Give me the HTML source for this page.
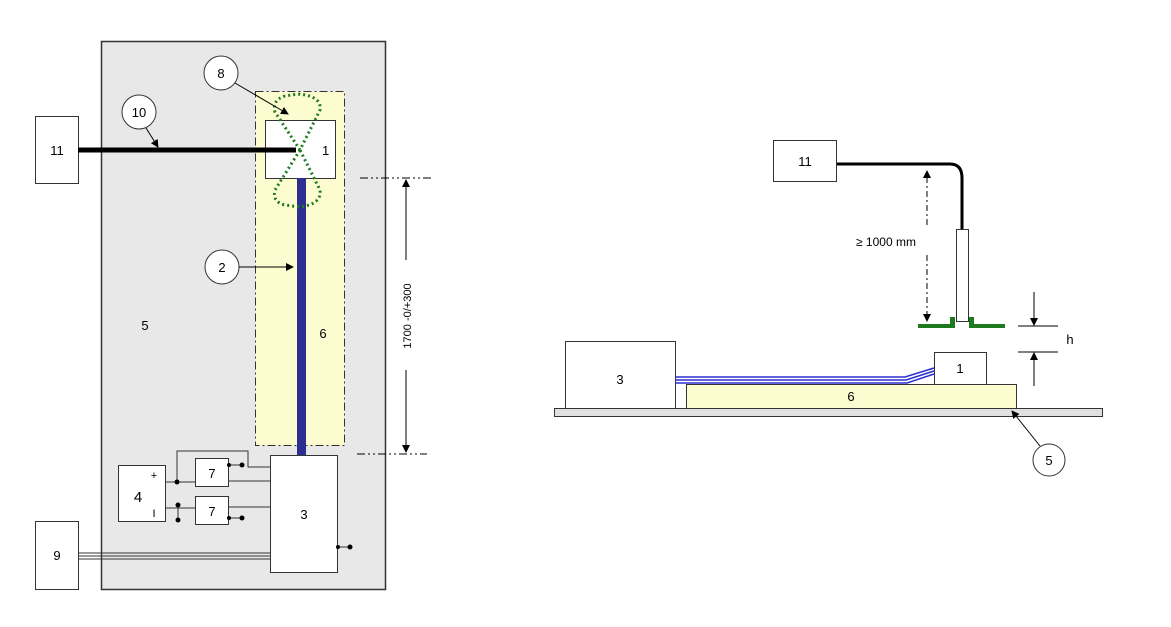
<!DOCTYPE html>
<html><head><meta charset="utf-8"><style>
html,body{margin:0;padding:0;background:#fff;}
svg{display:block;font-family:"Liberation Sans",sans-serif;}
</style></head><body>
<svg width="1171" height="627" viewBox="0 0 1171 627">
<defs>
<marker id="ar" markerWidth="8" markerHeight="8" refX="7" refY="4" orient="auto" markerUnits="userSpaceOnUse"><path d="M0,0 L8,4 L0,8 z" fill="#000"/></marker>
</defs>
<!-- LEFT: top view -->
<g>
<rect x="101.5" y="41.5" width="284" height="548" fill="#e8e8e8" stroke="#333" stroke-width="1.5"/>
<rect x="255.5" y="91.5" width="89" height="354" fill="#fdfcd0" stroke="#333" stroke-dasharray="8,3,2,3"/>
<rect x="265.5" y="120.5" width="70" height="58" fill="#fff" stroke="#333"/>
<text x="322" y="155" font-size="13">1</text>
<rect x="297" y="178" width="9" height="277" fill="#2b2f8f"/>
<rect x="35.5" y="116.5" width="43" height="67" fill="#fff" stroke="#333"/>
<text x="57" y="155" font-size="13" text-anchor="middle">11</text>
<rect x="78" y="147.5" width="218" height="5" fill="#000"/>
<g fill="none" stroke="#1f7a1f" stroke-width="3" stroke-dasharray="2,3">
<path d="M300,150 L275,112 Q272,100 285,96 L298,94 Q322,96 320,110 Z"/>
<path d="M300,150 L275,190 Q272,202 285,205 L300,207 Q322,204 320,190 Z"/>
</g>
<circle cx="221" cy="73" r="17" fill="#fff" stroke="#333"/>
<text x="221" y="78" font-size="13" text-anchor="middle">8</text>
<line x1="235" y1="83" x2="288" y2="114" stroke="#000" marker-end="url(#ar)"/>
<circle cx="139" cy="112" r="17" fill="#fff" stroke="#333"/>
<text x="139" y="117" font-size="13" text-anchor="middle">10</text>
<line x1="146" y1="128" x2="158" y2="147" stroke="#000" marker-end="url(#ar)"/>
<circle cx="222" cy="267" r="17" fill="#fff" stroke="#333"/>
<text x="222" y="272" font-size="13" text-anchor="middle">2</text>
<line x1="239" y1="267" x2="293" y2="267" stroke="#000" marker-end="url(#ar)"/>
<text x="145" y="330" font-size="13" text-anchor="middle">5</text>
<text x="323" y="338" font-size="13" text-anchor="middle">6</text>
<g stroke="#000">
<line x1="360" y1="178" x2="432" y2="178" stroke-dasharray="8,3,2,3,2,3"/>
<line x1="357" y1="454" x2="427" y2="454" stroke-dasharray="8,3,2,3,2,3"/>
<line x1="406" y1="260" x2="406" y2="180" marker-end="url(#ar)"/>
<line x1="406" y1="370" x2="406" y2="452" marker-end="url(#ar)"/>
</g>
<text transform="translate(411,316) rotate(-90)" font-size="11" text-anchor="middle">1700 -0/+300</text>
<rect x="270.5" y="455.5" width="67" height="117" fill="#fff" stroke="#333"/>
<text x="304" y="519" font-size="13" text-anchor="middle">3</text>
<rect x="118.5" y="465.5" width="47" height="56" fill="#fff" stroke="#333"/>
<text x="138" y="502" font-size="15" text-anchor="middle">4</text>
<text x="154" y="479" font-size="11" text-anchor="middle">+</text>
<text x="154" y="517" font-size="11" text-anchor="middle">I</text>
<rect x="195.5" y="458.5" width="33" height="28" fill="#fff" stroke="#333"/>
<text x="212" y="478" font-size="13" text-anchor="middle">7</text>
<rect x="195.5" y="496.5" width="33" height="28" fill="#fff" stroke="#333"/>
<text x="212" y="516" font-size="13" text-anchor="middle">7</text>
<g stroke="#333" fill="none">
<path d="M165.5,482 H195.5"/>
<path d="M177,482 V451 H248 V467 H270.5"/>
<path d="M228.5,481 H270.5"/>
<path d="M228.5,465 H242"/>
<path d="M165.5,508 H195.5"/>
<path d="M178,505 V520"/>
<path d="M228.5,507 H270.5"/>
<path d="M228.5,518 H242"/>
<path d="M337.5,547 H350"/>
</g>
<g fill="#000">
<circle cx="177" cy="482" r="2.5"/><circle cx="242" cy="465" r="2.5"/><circle cx="229" cy="465" r="2"/>
<circle cx="178" cy="505" r="2.5"/><circle cx="178" cy="520" r="2.5"/>
<circle cx="242" cy="518" r="2.5"/><circle cx="229" cy="518" r="2"/>
<circle cx="350" cy="547" r="2.5"/><circle cx="338" cy="547" r="2"/>
</g>
<rect x="35.5" y="521.5" width="43" height="68" fill="#fff" stroke="#333"/>
<text x="57" y="560" font-size="13" text-anchor="middle">9</text>
<g stroke="#333">
<line x1="78" y1="553" x2="270" y2="553"/><line x1="78" y1="556" x2="270" y2="556"/><line x1="78" y1="559" x2="270" y2="559"/>
</g>
</g>
<!-- RIGHT: side view -->
<g>
<rect x="554.5" y="408.5" width="548" height="8" fill="#e0e0e0" stroke="#333"/>
<rect x="565.5" y="341.5" width="110" height="67" fill="#fff" stroke="#333"/>
<text x="620" y="384" font-size="13" text-anchor="middle">3</text>
<rect x="686.5" y="384.5" width="330" height="24" fill="#fdfcd0" stroke="#333"/>
<text x="851" y="401" font-size="13" text-anchor="middle">6</text>
<rect x="934.5" y="352.5" width="52" height="32" fill="#fff" stroke="#333"/>
<text x="960" y="373" font-size="13" text-anchor="middle">1</text>
<g fill="none" stroke="#2b2fcf" stroke-width="1.5">
<path d="M675,377 H905 L934,368"/><path d="M675,380 H906 L934,371"/><path d="M675,383 H907 L934,374"/>
</g>
<rect x="773.5" y="140.5" width="63" height="41" fill="#fff" stroke="#333"/>
<text x="805" y="166" font-size="13" text-anchor="middle">11</text>
<path d="M837,164 H950 Q962,164 962,178 V229" fill="none" stroke="#000" stroke-width="3"/>
<rect x="956.5" y="229.5" width="12" height="92" fill="#fff" stroke="#333"/>
<g fill="#1f7a1f">
<rect x="918" y="324" width="37" height="4"/><rect x="969" y="324" width="36" height="4"/>
<rect x="950" y="317" width="5" height="8"/><rect x="969" y="317" width="5" height="8"/>
</g>
<g stroke="#000">
<line x1="927" y1="225" x2="927" y2="171" stroke-dasharray="6,3,2,3" marker-end="url(#ar)"/>
<line x1="927" y1="255" x2="927" y2="321" stroke-dasharray="6,3,2,3" marker-end="url(#ar)"/>
</g>
<text x="886" y="246" font-size="12" text-anchor="middle">≥ 1000 mm</text>
<g stroke="#000">
<line x1="1018" y1="326" x2="1058" y2="326"/><line x1="1018" y1="352" x2="1058" y2="352"/>
<line x1="1034" y1="292" x2="1034" y2="325" marker-end="url(#ar)"/>
<line x1="1034" y1="386" x2="1034" y2="353" marker-end="url(#ar)"/>
</g>
<text x="1070" y="344" font-size="13" text-anchor="middle">h</text>
<circle cx="1049" cy="460" r="16" fill="#fff" stroke="#333"/>
<text x="1049" y="465" font-size="13" text-anchor="middle">5</text>
<line x1="1040" y1="446" x2="1012" y2="411" stroke="#000" marker-end="url(#ar)"/>
</g>
</svg>
</body></html>
